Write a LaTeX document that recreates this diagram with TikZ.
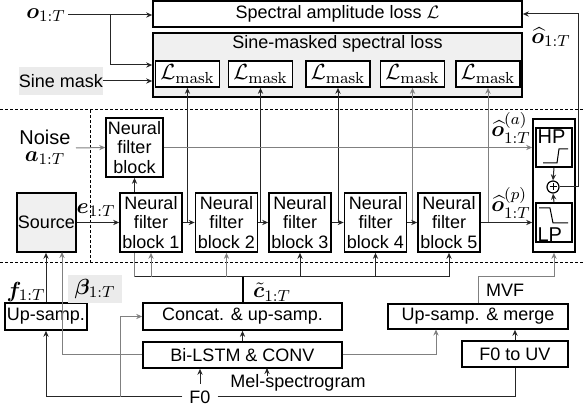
\documentclass[tikz,border=0pt]{standalone}
\usepackage[no-math]{fontspec}
\setmainfont{Liberation Sans}
\usepackage{amsmath,bm}
\usetikzlibrary{arrows.meta,calc}
\begin{document}
\begin{tikzpicture}[x=0.5pt,y=-0.5pt,
  font=\fontsize{9}{9.6}\selectfont,
  box/.style={draw,line width=0.8pt,inner sep=0pt,align=center,fill=white},
  arr/.style={-{Stealth[length=3pt,width=2.6pt]}},
  ln/.style={line width=0.5pt,draw=black!85},
  gl/.style={line width=0.5pt,draw=black!50},
  dsh/.style={dash pattern=on 1.5pt off 1pt,line width=0.5pt},
  mth/.style={font=\fontsize{10.8}{12}\selectfont,inner sep=1pt},
]
\useasboundingbox (0,0) rectangle (584,405);

% dashed separators
\draw[dsh] (0,110) -- (584,110);
\draw[dsh] (0,263) -- (584,263);
\draw[dsh] (90,110) -- (90,263);

% top loss boxes
\node[box,minimum width=184.5pt,minimum height=13pt] (spec) at (337.5,14) {Spectral amplitude loss $\mathcal{L}$};
\node[box,fill=black!6,minimum width=184.5pt,minimum height=32pt] (sine) at (337.5,65) {};
\node (sinet) at (337.5,44) {Sine-masked spectral loss};
\foreach \i/\x in {1/187.5,2/260.5,3/338,4/412.5,5/488}
  \node[box,minimum width=32pt,minimum height=13pt,font=\fontsize{11}{12}\selectfont] (m\i) at (\x,74) {$\mathcal{L}_{\mathrm{mask}}$};

% labels top
\node[mth] (o) at (46,15) {$\bm{o}_{1:T}$};
\node[mth] (ohat) at (551,37) {$\widehat{\bm{o}}_{1:T}$};
\node[fill=black!8,minimum width=41.5pt,minimum height=14pt,inner sep=0pt] (smask) at (61,81) {Sine mask};

% middle blocks
\coordinate (bus0) at (134.5,277);
\draw[gl] (bus0) -- (134.5,252);
\node[box,minimum width=28.5pt,minimum height=29.5pt] (nb) at (134.5,147.5) {Neural\\filter\\block};
\node[box,fill=black!6,minimum width=29.5pt,minimum height=29.5pt] (src) at (46.5,222.5) {Source};
\foreach \i/\x in {1/151,2/226.5,3/300,4/375.5,5/449}
  \node[box,minimum width=31pt,minimum height=29.5pt] (b\i) at (\x,222.5) {Neural\\filter\\block \i};

% HP / LP
\node[box,minimum width=21pt,minimum height=66.5pt] (hl) at (554,185.5) {};
\node[box,minimum width=18pt,minimum height=19.5pt] (hp) at (554,147.5) {};
\node[box,minimum width=18pt,minimum height=19.5pt] (lp) at (554,222.5) {};
\node[anchor=north west,inner sep=0pt,font=\fontsize{10}{10}\selectfont] (hpt) at ($(hp.north west)+(2,2)$) {HP};
\node[anchor=south west,inner sep=0pt,font=\fontsize{10}{10}\selectfont] (lpt) at ($(lp.south west)+(2,-1)$) {LP};
\draw[line width=0.5pt] (543,163) -- (557,163) -- (559,149) -- (568,149);
\draw[line width=0.5pt] (539,208) -- (550,208) -- (553,223) -- (568,223);
\node[circle,draw,line width=0.6pt,minimum size=6pt,inner sep=0pt] (add) at (553,187) {};
\draw[line width=0.5pt] (549.5,187) -- (556.5,187) (553,183.5) -- (553,190.5);

\node[mth] (elab) at (96,210) {$\bm{e}_{1:T}$};
\node[mth] (oalab) at (511,128) {$\widehat{\bm{o}}^{(a)}_{1:T}$};
\node[mth] (oplab) at (511,203) {$\widehat{\bm{o}}^{(p)}_{1:T}$};
\node (noise) at (45,137) {\fontsize{10}{10}\selectfont Noise};
\node[mth] (alab) at (45,158) {$\bm{a}_{1:T}$};
\coordinate (nz) at (76,148);

% bottom boxes
\node[box,minimum width=41pt,minimum height=13.5pt] (ups) at (46,316.5) {Up-samp.};
\node[box,minimum width=99.5pt,minimum height=13.5pt] (cat) at (242.5,316.5) {Concat. \& up-samp.};
\node[box,minimum width=99.5pt,minimum height=13pt] (lstm) at (242.5,355) {Bi-LSTM \& CONV};
\node[box,minimum width=90pt,minimum height=12.5pt] (mrg) at (478,316.5) {Up-samp. \& merge};
\node[box,minimum width=53pt,minimum height=13pt] (uv) at (515,354) {F0 to UV};

\node[mth] (flab) at (26,292) {$\bm{f}_{1:T}$};
\node[mth,fill=black!8,minimum width=27pt,minimum height=14pt] (blab) at (95,289) {$\bm{\beta}_{1:T}$};
\node[mth] (clab) at (272,292) {$\tilde{\bm{c}}_{1:T}$};
\node (mvf) at (505,290) {MVF};
\node (mel) at (298,383) {Mel-spectrogram};
\node (f0) at (200,397) {F0};

% ---------- connectors ----------
% top
\draw[ln,arr] (o.east) -- (spec.west |- o.east);
\draw[ln,arr] (110,15) |- (sine.west);
\draw[ln,arr] (smask.east) -- (smask.east -| sine.west);
\draw[ln,arr] (add.east) -- (578,187) |- (spec.east);

% loss taps
\draw[ln,arr] (m1.south |- b1.east) -- (m1.south);
\draw[ln,arr] (m2.south |- b2.east) -- (m2.south);
\draw[ln,arr] (m3.south |- b3.east) -- (m3.south);
\draw[gl,arr] (m4.south |- b4.east) -- (m4.south);
\draw[gl,arr] (m5.south |- b5.east) -- (m5.south);

% chain
\draw[ln,arr] (src.east) -- (b1.west);
\draw[ln,arr] (b1.east) -- (b2.west);
\draw[ln,arr] (b2.east) -- (b3.west);
\draw[ln,arr] (b3.east) -- (b4.west);
\draw[ln,arr] (b4.east) -- (b5.west);
\draw[ln,arr] (b5.east) -- (b5.east -| hl.west);
\draw[gl,arr] (nz) -- (nb.west);
\draw[gl,arr] (nb.east) -- (nb.east -| hl.west);
\draw[ln,arr] (nb.south |- b1.north) -- (nb.south);
\draw[ln,arr] (hp.south) -- (add.north);
\draw[ln,arr] (lp.north) -- (add.south);

% condition bus
\draw[ln] (bus0) -- (449,277);
\draw[gl,arr] (151,277) -- (b1.south);
\draw[gl,arr] (226.5,277) -- (b2.south);
\draw[ln,arr] (300,277) -- (b3.south);
\draw[ln,arr] (375.5,277) -- (b4.south);
\draw[ln,arr] (449,277) -- (b5.south);
\draw[line width=1pt] (cat.north) -- (cat.north |- bus0);

% MVF
\draw[gl,arr] (mrg.north) -- (478,277) -| (hl.south);

% bottom
\draw[ln,arr] (ups.north) -- (ups.north |- src.south);
\draw[gl,arr] (lstm.west) -| (62,252);
\draw[ln,arr] (f0.west) -| (ups.south);
\draw[gl,arr] (120,397) |- (cat.west);
\draw[ln] (f0.east) -| (uv.south);
\draw[ln,arr] (f0.north) -- (f0.north |- lstm.south);
\draw[ln,arr] (267,376) -- (267,368);
\draw[ln,arr] (lstm.north) -- (cat.south);
\draw[gl,arr] (lstm.east) -| (436,329.5);
\draw[ln,arr] (uv.north) -- (uv.north |- mrg.south);
\end{tikzpicture}
\end{document}
